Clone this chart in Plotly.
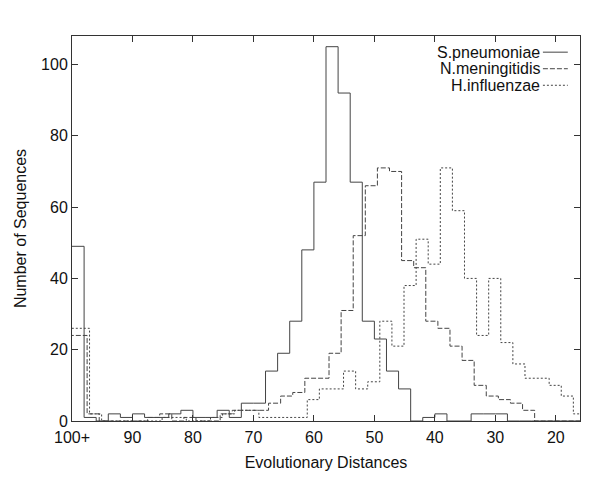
import plotly.graph_objects as go

# bins of width 2 from 100 down to 16; the first one is the "100+" overflow bin
BIN_STARTS = [100 - 2 * i for i in range(42)]
BIN_END = 16
OVERFLOW_START = 104

S_PNEUMONIAE = [49, 1, 0, 2, 1, 2, 1, 1, 2, 3, 1, 1, 3, 1, 5, 5, 14, 19, 28, 48, 67,
                105, 92, 67, 28, 23, 14, 9, 0, 1, 2, 0, 0, 2, 2, 2, 0, 0, 0, 0, 0, 0]
N_MENINGITIDIS = [24, 2, 0, 0, 0, 0, 1, 2, 0, 1, 0, 0, 2, 3, 3, 3, 5, 7, 8, 12, 12,
                  19, 31, 52, 66, 71, 70, 45, 43, 28, 26, 21, 17, 10, 7, 6, 5, 3, 0, 0, 0, 0]
H_INFLUENZAE = [26, 2, 0, 0, 0, 0, 0, 1, 1, 0, 0, 1, 2, 3, 3, 1, 1, 1, 1, 6, 9,
                9, 14, 9, 11, 28, 21, 38, 51, 44, 71, 59, 40, 24, 40, 22, 16, 12, 12, 10, 7, 2]

X_TICKS = [100, 90, 80, 70, 60, 50, 40, 30, 20]
X_TICK_TEXT = ["100+", "90", "80", "70", "60", "50", "40", "30", "20"]
Y_TICKS = [0, 20, 40, 60, 80, 100]

FONT = "Liberation Sans, Arial, sans-serif"
LINE_COLOR = "#444444"
TEXT_SIZE = 16

# name, values, small x shift (gnuplot offset the series slightly), dash
SERIES = [
    ("S.pneumoniae", S_PNEUMONIAE, 0.0, "solid"),
    ("N.meningitidis", N_MENINGITIDIS, 0.5, "5px,2px"),
    ("H.influenzae", H_INFLUENZAE, 0.9, "2px,2px"),
]


def step_xy(values, shift):
    xs = [s - shift for s in BIN_STARTS] + [BIN_END - shift]
    xs[0] = OVERFLOW_START
    ys = list(values) + [values[-1]]
    return xs, ys


fig = go.Figure()
for name, values, shift, dash in SERIES:
    xs, ys = step_xy(values, shift)
    fig.add_trace(go.Scatter(
        x=xs, y=ys, mode="lines", name=name,
        line=dict(shape="hv", color=LINE_COLOR, width=1, dash=dash),
        showlegend=False,
    ))

# gnuplot-style key: right-aligned text with the line sample to its right
legend_top = 0.958
for i, (name, values, shift, dash) in enumerate(SERIES):
    yk = legend_top - i * 0.043
    fig.add_annotation(
        x=0.925, y=yk, xref="paper", yref="paper", text=name, showarrow=False,
        xanchor="right", yanchor="middle", font=dict(size=TEXT_SIZE, color="#111"),
    )
    fig.add_shape(
        type="line", xref="paper", yref="paper", x0=0.927, x1=0.976, y0=yk, y1=yk,
        line=dict(color=LINE_COLOR, width=1, dash=dash),
    )

axis_style = dict(
    ticks="inside", ticklen=6, tickcolor="#333", showline=True, linecolor="#333",
    linewidth=1, mirror="allticks", showgrid=False, zeroline=False,
    tickfont=dict(size=TEXT_SIZE, color="#111"),
)

# the page adds an 8px body margin, so the margins are trimmed on top/left
fig.update_layout(
    width=600, height=500,
    paper_bgcolor="white", plot_bgcolor="white",
    font=dict(family=FONT, size=TEXT_SIZE, color="#111"),
    margin=dict(l=62, r=28, t=28, b=87),
    showlegend=False,
)
fig.update_xaxes(
    range=[100, BIN_END], tickvals=X_TICKS, ticktext=X_TICK_TEXT,
    ticklabelstandoff=2,
    title=dict(text="Evolutionary Distances", standoff=11, font=dict(size=TEXT_SIZE)),
    **axis_style,
)
fig.update_yaxes(
    range=[0, 108], tickvals=Y_TICKS,
    title=dict(text="Number of Sequences", standoff=10, font=dict(size=TEXT_SIZE)),
    **axis_style,
)

fig.write_html("out.html")
